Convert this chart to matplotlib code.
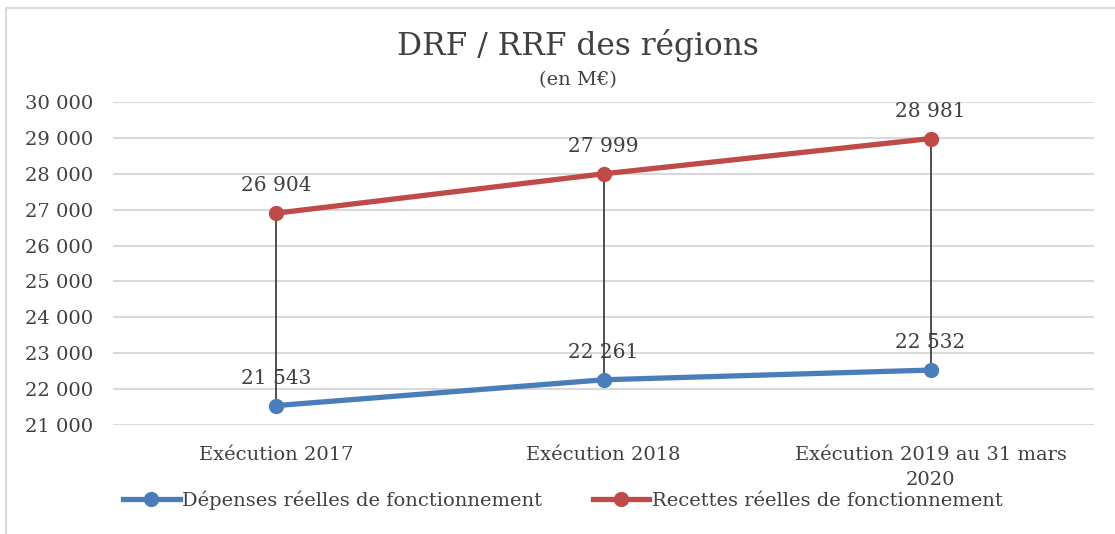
import matplotlib.pyplot as plt
from matplotlib.patches import Rectangle
from matplotlib.lines import Line2D

categories = ["Exécution 2017", "Exécution 2018", "Exécution 2019 au 31 mars\n2020"]
depenses = [21543, 22261, 22532]
recettes = [26904, 27999, 28981]
yticks = list(range(21000, 30001, 1000))

blue = "#4A7EBB"
red = "#BE4B48"
text_col = "#404040"

plt.rcParams["font.family"] = ["DejaVu Serif"]

fig = plt.figure(figsize=(11.15, 5.34), dpi=100)
ax = fig.add_axes([0.1013, 0.204, 0.880, 0.605])

x = range(len(categories))

# drop lines between the two series
for i in x:
    ax.plot([i, i], [depenses[i], recettes[i]], color="#404040", lw=1.3, zorder=2)

ax.plot(x, depenses, color=blue, lw=3.8, marker="o", ms=10, zorder=3,
        label="Dépenses réelles de fonctionnement")
ax.plot(x, recettes, color=red, lw=3.8, marker="o", ms=10, zorder=3,
        label="Recettes réelles de fonctionnement")

def fmt(v):
    return f"{v:,}".replace(",", " ")

for i in x:
    for v in (depenses[i], recettes[i]):
        ax.annotate(fmt(v), (i, v), xytext=(0, 13), textcoords="offset points",
                    ha="center", va="bottom", fontsize=14.5, color=text_col)

ax.set_xlim(-0.5, 2.5)
ax.set_ylim(21000, 30000)
ax.set_yticks(yticks)
ax.set_yticklabels([fmt(v) for v in yticks], fontsize=14, color=text_col)
ax.set_xticks(list(x))
ax.set_xticklabels(categories, fontsize=14, color=text_col, linespacing=1.5)
ax.tick_params(axis="both", length=0)
ax.tick_params(axis="y", pad=14)
ax.tick_params(axis="x", pad=15)
ax.grid(axis="y", color="#D9D9D9", lw=1.5)
ax.set_axisbelow(True)
for s in ax.spines.values():
    s.set_visible(False)

fig.text(0.518, 0.915, "DRF / RRF des régions", ha="center", va="center",
         fontsize=22.5, color=text_col)
fig.text(0.518, 0.85, "(en M€)", ha="center", va="center",
         fontsize=14, color=text_col)

handles = [Line2D([], [], color=blue, lw=3.8, marker="o", ms=10),
           Line2D([], [], color=red, lw=3.8, marker="o", ms=10)]
fig.legend(handles, ["Dépenses réelles de fonctionnement",
                     "Recettes réelles de fonctionnement"],
           loc="center", bbox_to_anchor=(0.505, 0.063), ncol=2, frameon=False,
           fontsize=14, labelcolor=text_col, handlelength=2.9, handletextpad=0.15,
           columnspacing=2.6)

fig.patches.append(Rectangle((0.005, -0.1), 1.2, 1.085, transform=fig.transFigure,
                             fill=False, edgecolor="#D9D9D9", lw=1.5))

fig.savefig("out.png", dpi=100)
